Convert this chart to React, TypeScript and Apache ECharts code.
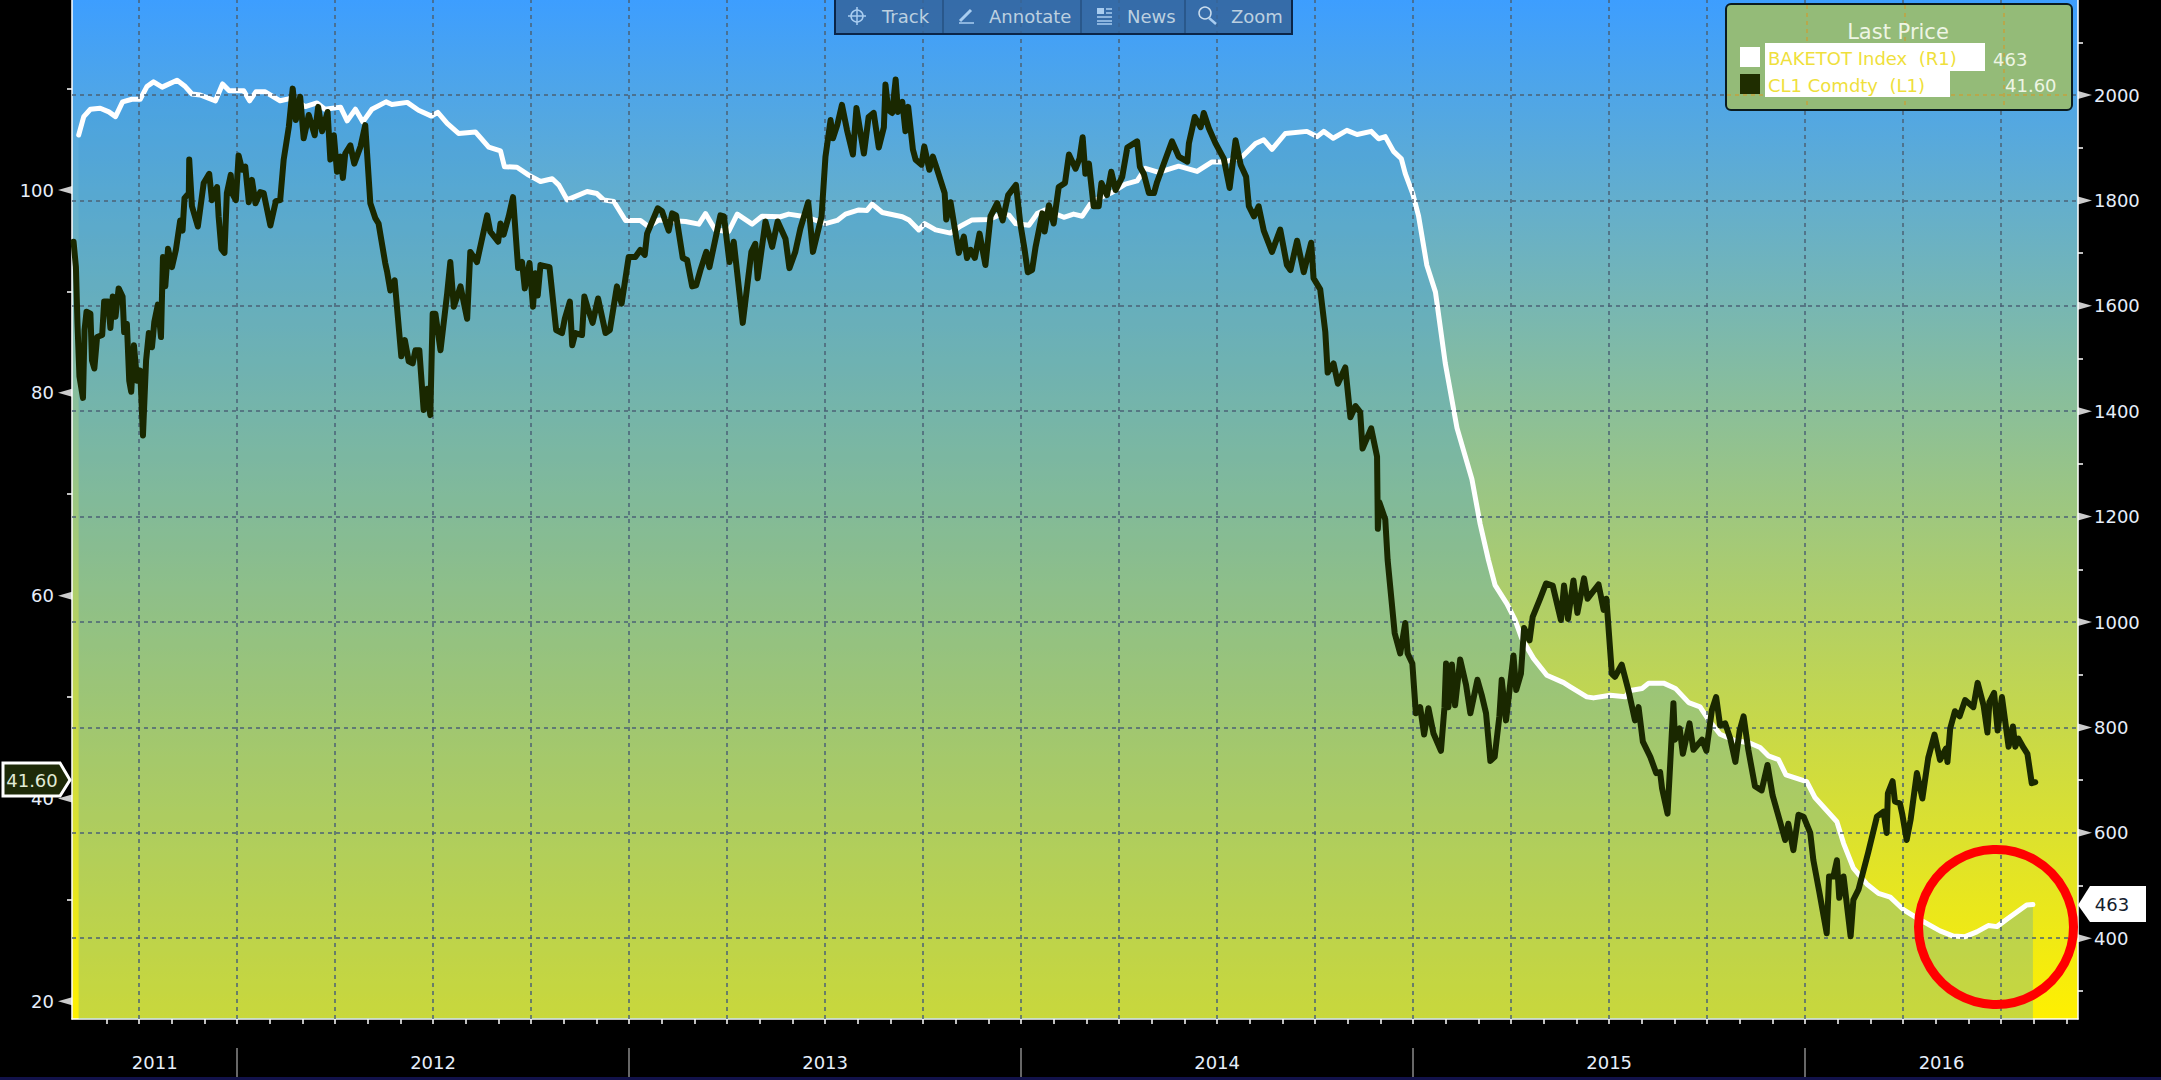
import React, { useEffect, useRef } from "react";
import * as echarts from "echarts";

// Dates are decimal years.
const oilA = [[2011.583,94.9],[2011.589,92.4],[2011.593,86.8],[2011.598,81.6],[2011.607,79.5],[2011.611,86.2],[2011.616,88.0],[2011.626,87.8],[2011.630,83.2],[2011.636,82.4],[2011.643,85.5],[2011.656,85.7],[2011.661,89.0],[2011.671,89.0],[2011.677,86.4],[2011.683,89.5],[2011.690,87.5],[2011.698,90.3],[2011.708,89.5],[2011.712,86.0],[2011.719,86.8],[2011.725,81.2],[2011.730,80.1],[2011.737,84.7],[2011.745,81.2],[2011.753,82.2],[2011.760,75.8],[2011.768,83.2],[2011.775,85.9],[2011.783,84.5],[2011.789,87.0],[2011.798,88.7],[2011.806,85.5],[2011.811,93.4],[2011.817,90.5],[2011.824,94.2],[2011.834,92.4],[2011.844,94.1],[2011.855,97.0],[2011.861,96.0],[2011.866,99.2],[2011.877,99.7],[2011.878,103.0],[2011.885,98.4],[2011.900,96.4],[2011.915,100.7],[2011.929,101.6],[2011.936,99.0],[2011.949,100.3],[2011.953,97.4],[2011.960,94.2],[2011.968,93.8],[2011.974,99.7],[2011.984,101.5],[2011.987,99.7],[2011.997,99.0]];
const oilB = [[2012.004,103.4],[2012.013,102.0],[2012.021,102.3],[2012.030,98.8],[2012.038,101.0],[2012.047,98.7],[2012.059,99.8],[2012.068,99.7],[2012.085,96.5],[2012.099,98.9],[2012.110,99.0],[2012.119,103.0],[2012.132,106.2],[2012.142,110.0],[2012.150,106.9],[2012.161,109.2],[2012.170,105.1],[2012.183,107.4],[2012.198,105.4],[2012.207,108.2],[2012.217,105.8],[2012.231,107.7],[2012.238,103.0],[2012.247,105.4],[2012.255,101.8],[2012.264,103.3],[2012.270,101.2],[2012.276,103.6],[2012.289,104.4],[2012.299,102.6],[2012.315,104.3],[2012.327,106.4],[2012.340,98.7],[2012.353,97.2],[2012.361,96.7],[2012.378,92.8],[2012.383,91.9],[2012.391,90.1],[2012.402,91.1],[2012.419,83.6],[2012.428,85.2],[2012.438,83.1],[2012.448,82.9],[2012.455,84.2],[2012.465,84.2],[2012.476,78.3],[2012.485,80.4],[2012.493,77.8],[2012.499,87.8],[2012.506,87.8],[2012.519,84.2],[2012.536,89.8],[2012.544,92.9],[2012.553,88.5],[2012.570,90.5],[2012.587,87.3],[2012.595,93.9],[2012.612,92.9],[2012.638,97.5],[2012.646,95.9],[2012.666,94.9],[2012.672,96.7],[2012.680,95.6],[2012.693,97.4],[2012.704,99.3],[2012.717,92.3],[2012.727,92.9],[2012.734,90.3],[2012.746,92.8],[2012.755,88.5],[2012.761,91.8],[2012.767,89.6],[2012.774,92.6],[2012.797,92.4],[2012.814,86.2],[2012.829,85.9],[2012.836,87.3],[2012.849,89.0],[2012.855,84.7],[2012.863,85.9],[2012.880,85.7],[2012.886,89.5],[2012.895,88.3],[2012.907,86.9],[2012.921,89.3],[2012.940,85.9],[2012.951,86.2],[2012.969,90.5],[2012.981,88.8],[2012.999,93.4]];
const oilC = [[2013.016,93.4],[2013.029,94.1],[2013.040,93.6],[2013.046,95.7],[2013.073,98.2],[2013.084,97.9],[2013.101,96.0],[2013.110,97.7],[2013.120,97.5],[2013.137,93.3],[2013.148,93.1],[2013.161,90.5],[2013.171,90.6],[2013.182,92.1],[2013.197,93.9],[2013.205,92.4],[2013.233,97.5],[2013.242,97.4],[2013.256,92.9],[2013.267,94.9],[2013.290,86.9],[2013.312,93.9],[2013.322,94.7],[2013.328,91.3],[2013.348,96.9],[2013.365,94.4],[2013.379,96.9],[2013.399,95.2],[2013.409,92.3],[2013.424,93.9],[2013.437,96.2],[2013.457,98.8],[2013.469,93.9],[2013.491,97.4],[2013.501,103.3],[2013.514,106.9],[2013.520,105.1],[2013.531,106.4],[2013.543,108.4],[2013.556,105.9],[2013.571,103.5],[2013.580,108.1],[2013.599,103.6],[2013.611,107.2],[2013.624,107.6],[2013.637,104.2],[2013.650,106.2],[2013.654,110.4],[2013.661,107.9],[2013.671,107.6],[2013.680,110.9],[2013.686,107.7],[2013.697,108.7],[2013.705,105.8],[2013.712,108.2],[2013.724,104.0],[2013.731,103.0],[2013.746,102.5],[2013.753,104.3],[2013.766,102.0],[2013.775,103.3],[2013.786,102.0],[2013.805,99.7],[2013.809,97.1],[2013.820,98.8],[2013.841,93.8],[2013.854,95.4],[2013.862,93.3],[2013.871,94.1],[2013.882,93.3],[2013.894,95.7],[2013.909,92.6],[2013.922,97.4],[2013.939,98.7],[2013.953,97.0],[2013.967,99.5],[2013.987,100.5],[2013.998,96.7]];
const oilD = [[2014.009,94.1],[2014.017,91.9],[2014.028,92.1],[2014.037,94.4],[2014.054,97.7],[2014.060,95.9],[2014.071,98.5],[2014.083,96.7],[2014.096,100.3],[2014.112,100.7],[2014.122,103.5],[2014.139,102.1],[2014.149,103.1],[2014.157,105.2],[2014.164,101.6],[2014.173,102.6],[2014.185,98.4],[2014.198,98.4],[2014.205,100.7],[2014.219,99.5],[2014.230,101.8],[2014.241,100.0],[2014.258,101.3],[2014.271,104.2],[2014.296,104.8],[2014.303,102.3],[2014.313,101.6],[2014.326,99.7],[2014.339,99.7],[2014.347,100.8],[2014.364,102.6],[2014.385,104.8],[2014.402,103.3],[2014.424,102.8],[2014.428,104.6],[2014.443,107.2],[2014.458,106.2],[2014.466,107.6],[2014.479,106.1],[2014.496,104.6],[2014.517,103.1],[2014.532,100.2],[2014.547,104.9],[2014.560,102.5],[2014.574,101.3],[2014.581,98.4],[2014.594,97.4],[2014.606,98.4],[2014.619,96.0],[2014.640,93.9],[2014.661,96.1],[2014.678,92.6],[2014.687,92.1],[2014.704,95.0],[2014.721,91.9],[2014.740,94.8],[2014.746,91.3],[2014.763,90.2],[2014.776,86.0],[2014.782,82.0],[2014.797,82.9],[2014.808,80.9],[2014.827,82.5],[2014.840,77.6],[2014.853,78.7],[2014.865,78.1],[2014.871,74.5],[2014.893,76.5],[2014.908,73.7],[2014.910,66.6],[2014.914,69.2],[2014.929,67.5],[2014.935,63.5],[2014.953,56.3],[2014.967,54.3],[2014.980,57.3],[2014.986,54.3],[2014.998,53.3]];
const oilE = [[2015.007,48.4],[2015.018,49.0],[2015.028,46.3],[2015.039,48.9],[2015.052,46.4],[2015.071,44.7],[2015.080,49.0],[2015.084,53.3],[2015.090,49.0],[2015.099,53.2],[2015.107,49.2],[2015.120,53.7],[2015.135,51.2],[2015.146,48.4],[2015.164,51.7],[2015.175,50.2],[2015.186,48.4],[2015.197,43.7],[2015.208,44.1],[2015.220,48.1],[2015.226,51.7],[2015.237,47.7],[2015.256,54.1],[2015.263,50.7],[2015.275,52.3],[2015.283,56.8],[2015.297,55.6],[2015.305,57.9],[2015.324,59.7],[2015.339,61.2],[2015.356,61.0],[2015.377,57.6],[2015.385,61.0],[2015.395,57.7],[2015.409,61.5],[2015.419,58.3],[2015.436,61.7],[2015.445,59.7],[2015.473,61.1],[2015.486,58.6],[2015.493,59.7],[2015.507,52.3],[2015.515,52.0],[2015.532,53.2],[2015.549,50.7],[2015.566,47.7],[2015.575,49.0],[2015.586,45.6],[2015.605,44.1],[2015.620,42.5],[2015.630,42.6],[2015.635,41.0],[2015.649,38.5],[2015.664,49.4],[2015.668,45.8],[2015.680,46.9],[2015.688,44.4],[2015.705,47.4],[2015.715,44.8],[2015.737,45.8],[2015.748,44.7],[2015.762,48.7],[2015.773,50.0],[2015.783,47.2],[2015.796,47.4],[2015.809,45.9],[2015.822,43.6],[2015.833,46.7],[2015.843,48.1],[2015.855,44.8],[2015.872,41.2],[2015.889,40.8],[2015.904,43.3],[2015.917,40.3],[2015.936,37.7],[2015.949,35.9],[2015.957,37.5],[2015.970,34.9],[2015.983,38.4],[2015.996,38.2]];
const oilF = [[2016.013,36.6],[2016.021,33.9],[2016.036,30.8],[2016.055,26.7],[2016.061,32.3],[2016.072,32.3],[2016.081,33.9],[2016.087,30.2],[2016.098,32.3],[2016.116,26.4],[2016.123,30.0],[2016.136,31.0],[2016.161,34.7],[2016.183,38.2],[2016.200,38.7],[2016.208,36.6],[2016.211,40.5],[2016.223,41.7],[2016.229,39.7],[2016.242,39.5],[2016.248,38.4],[2016.259,35.9],[2016.269,37.9],[2016.285,42.5],[2016.299,40.0],[2016.314,44.0],[2016.330,46.3],[2016.344,43.8],[2016.359,44.9],[2016.363,43.6],[2016.370,46.9],[2016.382,48.6],[2016.394,48.1],[2016.408,49.7],[2016.429,49.0],[2016.440,51.4],[2016.455,49.2],[2016.465,46.5],[2016.470,49.5],[2016.482,50.4],[2016.491,46.7],[2016.502,50.0],[2016.519,45.1],[2016.530,47.1],[2016.536,45.1],[2016.544,45.9],[2016.557,45.0],[2016.567,44.4],[2016.578,41.5],[2016.587,41.6]];

const rigA = [[2011.596,1924],[2011.609,1959],[2011.626,1973],[2011.651,1975],[2011.673,1968],[2011.690,1959],[2011.708,1987],[2011.732,1992],[2011.753,1992],[2011.770,2016],[2011.787,2025],[2011.809,2015],[2011.847,2028],[2011.868,2016],[2011.885,2002],[2011.906,2000],[2011.945,1989],[2011.963,2021],[2011.980,2008]];
const rigB = [[2012.017,2008],[2012.032,1989],[2012.048,2006],[2012.072,2006],[2012.110,1989],[2012.140,1994],[2012.174,1978],[2012.204,1985],[2012.224,1973],[2012.264,1977],[2012.281,1951],[2012.302,1973],[2012.321,1949],[2012.344,1973],[2012.380,1987],[2012.395,1982],[2012.434,1986],[2012.463,1971],[2012.496,1960],[2012.512,1967],[2012.536,1946],[2012.565,1927],[2012.608,1930],[2012.642,1901],[2012.672,1894],[2012.682,1864],[2012.714,1863],[2012.744,1848],[2012.774,1836],[2012.804,1841],[2012.821,1829],[2012.842,1801],[2012.893,1817],[2012.918,1813],[2012.935,1801],[2012.961,1798],[2012.991,1762]];
const rigC = [[2013.029,1762],[2013.050,1750],[2013.076,1763],[2013.144,1760],[2013.178,1755],[2013.195,1775],[2013.220,1744],[2013.254,1741],[2013.276,1774],[2013.314,1755],[2013.339,1770],[2013.386,1769],[2013.407,1774],[2013.450,1769],[2013.501,1756],[2013.531,1762],[2013.552,1774],[2013.586,1782],[2013.607,1781],[2013.620,1793],[2013.646,1777],[2013.697,1769],[2013.714,1763],[2013.739,1744],[2013.754,1756],[2013.782,1744],[2013.820,1738],[2013.845,1751],[2013.875,1763],[2013.918,1764],[2013.952,1775],[2013.969,1772],[2013.986,1756]];
const rigD = [[2014.020,1753],[2014.041,1775],[2014.062,1782],[2014.109,1768],[2014.134,1774],[2014.156,1770],[2014.181,1798],[2014.232,1815],[2014.266,1831],[2014.296,1837],[2014.317,1861],[2014.351,1853],[2014.402,1865],[2014.449,1855],[2014.487,1873],[2014.521,1873],[2014.564,1883],[2014.598,1908],[2014.619,1915],[2014.640,1897],[2014.674,1927],[2014.729,1931],[2014.755,1921],[2014.772,1931],[2014.796,1918],[2014.831,1933],[2014.857,1925],[2014.893,1931],[2014.912,1917],[2014.929,1921],[2014.950,1893],[2014.970,1879],[2014.980,1851],[2014.999,1813]];
const rigE = [[2015.014,1770],[2015.035,1677],[2015.057,1626],[2015.082,1491],[2015.112,1368],[2015.150,1271],[2015.171,1186],[2015.192,1118],[2015.209,1070],[2015.239,1035],[2015.260,1004],[2015.277,969],[2015.307,931],[2015.341,899],[2015.384,885],[2015.401,877],[2015.443,858],[2015.460,856],[2015.503,861],[2015.541,858],[2015.554,870],[2015.584,874],[2015.601,884],[2015.639,884],[2015.669,874],[2015.703,847],[2015.732,839],[2015.754,814],[2015.783,787],[2015.817,776],[2015.860,770],[2015.885,762],[2015.906,746],[2015.932,739],[2015.951,710]];
const rigF = [[2016.004,697],[2016.025,667],[2016.081,621],[2016.098,580],[2016.123,533],[2016.157,503],[2016.187,485],[2016.217,478],[2016.251,454],[2016.293,435],[2016.344,414],[2016.378,404],[2016.408,403],[2016.438,412],[2016.467,424],[2016.489,422],[2016.518,438],[2016.565,463],[2016.581,464]];

const oilData = [...oilA, ...oilB, ...oilC, ...oilD, ...oilE, ...oilF];
const rigData = [...rigA, ...rigB, ...rigC, ...rigD, ...rigE, ...rigF];

const xMin = 2011.579;
const xMax = 2016.696;
const leftMin = 18.25;
const leftMax = 118.74;
const rightMin = 246.7;
const rightMax = 2180.3;

const yearStarts = [2012, 2013, 2014, 2015, 2016];
const yearLabelAt = [2011.79, 2012.5, 2013.5, 2014.5, 2015.5, 2016.348];
const monthTicks = [
  2011.667, 2011.75, 2011.833, 2011.917,
  2012, 2012.083, 2012.167, 2012.25, 2012.333, 2012.417, 2012.5, 2012.583, 2012.667, 2012.75, 2012.833, 2012.917,
  2013, 2013.083, 2013.167, 2013.25, 2013.333, 2013.417, 2013.5, 2013.583, 2013.667, 2013.75, 2013.833, 2013.917,
  2014, 2014.083, 2014.167, 2014.25, 2014.333, 2014.417, 2014.5, 2014.583, 2014.667, 2014.75, 2014.833, 2014.917,
  2015, 2015.083, 2015.167, 2015.25, 2015.333, 2015.417, 2015.5, 2015.583, 2015.667, 2015.75, 2015.833, 2015.917,
  2016, 2016.083, 2016.167, 2016.25, 2016.333, 2016.417, 2016.5, 2016.583, 2016.667,
];
const quarterLines = [
  2011.75, 2012, 2012.25, 2012.5, 2012.75, 2013, 2013.25, 2013.5, 2013.75,
  2014, 2014.25, 2014.5, 2014.75, 2015, 2015.25, 2015.5, 2015.75, 2016, 2016.25, 2016.5,
];
const leftLabels = [20, 40, 60, 80, 100];
const leftMinor = [30, 50, 70, 90, 110];
const rightLabels = [400, 600, 800, 1000, 1200, 1400, 1600, 1800, 2000];
const rightMinor = [300, 500, 700, 900, 1100, 1300, 1500, 1700, 1900, 2100];

const seriesNames = ["BAKETOT Index  (R1)", "CL1 Comdty  (L1)"];
const lastValues = ["463", "41.60"];
const toolbarItems = ["Track", "Annotate", "News", "Zoom"];

const FONT = "'DejaVu Sans', sans-serif";
const LABEL = "#e6eefa";
const GRID = "#4b6176";

const txt = (text: string, x: number, y: number, fill: string, align = "left", z = 30, size = 18) => ({
  type: "text", x, y, z, silent: true,
  style: { text, fill, font: `${size}px ${FONT}`, align, verticalAlign: "middle" },
});
const rect = (x: number, y: number, width: number, height: number, style: any, z = 30, r = 0) => ({
  type: "rect", z, silent: true, shape: { x, y, width, height, r }, style,
});
const seg = (x1: number, y1: number, x2: number, y2: number, stroke: string, lineWidth = 1.5, z = 31, lineDash?: number[]) => ({
  type: "line", z, silent: true, shape: { x1, y1, x2, y2 }, style: { stroke, lineWidth, lineDash },
});

const legendGraphics = [
  rect(1726, 4, 346, 106, { fill: "#94bb78", stroke: "#0b1c20", lineWidth: 2 }, 20, 5),
  seg(1807, 5, 1807, 109, "#c2a33e", 1.5, 21, [4, 4]),
  seg(1905, 5, 1905, 109, "#c2a33e", 1.5, 21, [4, 4]),
  seg(2004, 5, 2004, 109, "#c2a33e", 1.5, 21, [4, 4]),
  seg(1727, 95, 2071, 95, "#c2a33e", 1.5, 21, [4, 4]),
  txt("Last Price", 1898, 32, "#eef5e4", "center", 30, 21),
  rect(1740, 47, 20, 20, { fill: "#ffffff" }),
  rect(1740, 74, 20, 20, { fill: "#1f2d00" }),
  rect(1765, 43, 220, 28, { fill: "#ffffff" }),
  rect(1765, 71, 185, 26, { fill: "#ffffff" }),
  txt(seriesNames[0], 1768, 58, "#efdf3c"),
  txt(seriesNames[1], 1768, 85, "#efdf3c"),
  txt(lastValues[0], 1993, 59, "#eef5e4"),
  txt(lastValues[1], 2005, 85, "#eef5e4"),
];

const iconColor = "#a9cdf0";
const toolbarGraphics = [
  rect(835, -3, 457, 37, { fill: "rgba(52,100,155,0.86)", stroke: "#0b2548", lineWidth: 2 }, 20),
  seg(943, 0, 943, 33, "rgba(40,85,135,0.9)", 2, 21),
  seg(1081, 0, 1081, 33, "rgba(40,85,135,0.9)", 2, 21),
  seg(1185, 0, 1185, 33, "rgba(40,85,135,0.9)", 2, 21),
  txt(toolbarItems[0], 882, 16, "#bcd0e0"),
  txt(toolbarItems[1], 989, 16, "#bcd0e0"),
  txt(toolbarItems[2], 1127, 16, "#bcd0e0"),
  txt(toolbarItems[3], 1231, 16, "#bcd0e0"),
  { type: "circle", z: 31, silent: true, shape: { cx: 857, cy: 16, r: 6 }, style: { fill: "none", stroke: iconColor, lineWidth: 1.5 } },
  seg(848, 16, 866, 16, iconColor),
  seg(857, 7, 857, 25, iconColor),
  seg(960, 21, 971, 10, iconColor, 3),
  seg(959, 23, 974, 23, iconColor, 1.5),
  rect(1097, 8, 7, 6, { fill: iconColor }, 31),
  seg(1106, 9, 1112, 9, iconColor),
  seg(1106, 13, 1112, 13, iconColor),
  seg(1097, 17, 1112, 17, iconColor),
  seg(1097, 21, 1112, 21, iconColor),
  seg(1097, 24, 1112, 24, iconColor),
  { type: "circle", z: 31, silent: true, shape: { cx: 1205, cy: 13, r: 6 }, style: { fill: "none", stroke: "#c9dcec", lineWidth: 1.5 } },
  seg(1209, 18, 1216, 24, iconColor, 2.5),
];

const tagGraphics = [
  { type: "polygon", z: 30, silent: true, shape: { points: [[2078, 905], [2090, 886], [2146, 886], [2146, 922], [2090, 922]] }, style: { fill: "#ffffff" } },
  txt(lastValues[0], 2112, 904, "#14202c", "center", 31),
  { type: "polygon", z: 30, silent: true, shape: { points: [[3, 763], [60, 763], [70, 780], [60, 796], [3, 796]] }, style: { fill: "#1e2a08", stroke: "#ffffff", lineWidth: 3 } },
  txt(lastValues[1], 32, 780, "#e2ebd6", "center", 31),
];

const annotationGraphics = [
  { type: "circle", z: 25, silent: true, shape: { cx: 1996, cy: 927, r: 77.5 }, style: { fill: "none", stroke: "#ff0000", lineWidth: 9 } },
  rect(0, 1077, 2161, 3, { fill: "#12124a" }, 5),
];

const wedge = (path: string, offset: number, x: number, yAxisIndex: number, values: number[]) => ({
  type: "scatter",
  xAxisIndex: 0,
  yAxisIndex,
  clip: false,
  silent: true,
  z: 6,
  symbol: path,
  symbolSize: [14, 8],
  symbolOffset: [offset, 0],
  itemStyle: { color: "#ffffff" },
  data: values.map((v) => [x, v]),
});

export default function App() {
  const ref = useRef<HTMLDivElement>(null);
  useEffect(() => {
    const chart = echarts.init(ref.current!, undefined, { renderer: "svg" });
    const axisLabelStyle = { color: LABEL, fontFamily: FONT, fontSize: 18 };
    chart.setOption({
      animation: false,
      backgroundColor: "#000000",
      grid: {
        show: true,
        left: 72,
        right: 83,
        top: 0,
        bottom: 61,
        borderWidth: 0,
        backgroundColor: {
          type: "linear", x: 0, y: 0, x2: 0, y2: 1,
          colorStops: [{ offset: 0, color: "#3d9eff" }, { offset: 1, color: "#fff000" }],
        },
      },
      xAxis: [
        {
          type: "value", min: xMin, max: xMax, position: "bottom",
          axisLine: { show: true, onZero: false, lineStyle: { color: "#ffffff", width: 1.5 } },
          axisTick: { show: true, length: 5, customValues: monthTicks, lineStyle: { color: "#ffffff", width: 1.5 } },
          axisLabel: { show: false },
          splitLine: { show: false },
        },
        {
          type: "value", min: xMin, max: xMax, position: "bottom", offset: 29,
          axisLine: { show: false },
          axisTick: { show: true, length: 29, customValues: yearStarts, lineStyle: { color: "#8a8a8a", width: 1.5 } },
          axisLabel: {
            ...axisLabelStyle, show: true, margin: 5, customValues: yearLabelAt,
            formatter: (v: number) => String(Math.floor(v)),
          },
          splitLine: { show: false },
        },
      ],
      yAxis: [
        {
          type: "value", min: leftMin, max: leftMax, position: "left",
          axisLine: { show: true, onZero: false, lineStyle: { color: "#ffffff", width: 1.5 } },
          axisTick: { show: true, length: 5, customValues: leftMinor, lineStyle: { color: "#ffffff", width: 1.5 } },
          axisLabel: { ...axisLabelStyle, margin: 18, customValues: leftLabels, formatter: (v: number) => String(v) },
          splitLine: { show: false },
        },
        {
          type: "value", min: rightMin, max: rightMax, position: "right",
          axisLine: { show: true, onZero: false, lineStyle: { color: "#ffffff", width: 1.5 } },
          axisTick: { show: true, length: 5, customValues: rightMinor, lineStyle: { color: "#ffffff", width: 1.5 } },
          axisLabel: { ...axisLabelStyle, margin: 16, customValues: rightLabels, formatter: (v: number) => String(v) },
          splitLine: { show: false },
        },
      ],
      graphic: [...legendGraphics, ...toolbarGraphics, ...tagGraphics, ...annotationGraphics],
      series: [
        {
          name: seriesNames[0] + " area",
          type: "line",
          xAxisIndex: 0,
          yAxisIndex: 1,
          z: 2,
          silent: true,
          showSymbol: false,
          lineStyle: { width: 0 },
          areaStyle: { color: "rgba(60,155,215,0.28)", origin: "start", opacity: 1 },
          data: rigData,
        },
        {
          name: "grid",
          type: "line",
          xAxisIndex: 0,
          yAxisIndex: 1,
          z: 3,
          silent: true,
          showSymbol: false,
          lineStyle: { width: 0 },
          data: [[xMin, rightLabels[0]]],
          markLine: {
            silent: true,
            symbol: "none",
            animation: false,
            label: { show: false },
            lineStyle: { color: GRID, type: [4, 4], width: 1.5 },
            data: [
              ...quarterLines.map((v) => ({ xAxis: v })),
              ...rightLabels.map((v) => ({ yAxis: v })),
            ],
          },
        },
        {
          name: seriesNames[0],
          type: "line",
          xAxisIndex: 0,
          yAxisIndex: 1,
          z: 4,
          silent: true,
          showSymbol: false,
          lineStyle: { color: "#ffffff", width: 5, join: "round", cap: "round" },
          data: rigData,
        },
        {
          name: seriesNames[1],
          type: "line",
          xAxisIndex: 0,
          yAxisIndex: 0,
          z: 5,
          silent: true,
          showSymbol: false,
          lineStyle: { color: "#1a2800", width: 6, join: "round", cap: "round" },
          data: oilData,
        },
        wedge("path://M14 0L0 4L14 8Z", -7, xMin, 0, leftLabels),
        wedge("path://M0 0L14 4L0 8Z", 7, xMax, 1, rightLabels),
      ],
    });
    return () => chart.dispose();
  }, []);
  return (
    <div
      ref={ref}
      style={{ position: "fixed", left: 0, top: 0, width: 2161, height: 1080, background: "#000" }}
    />
  );
}
